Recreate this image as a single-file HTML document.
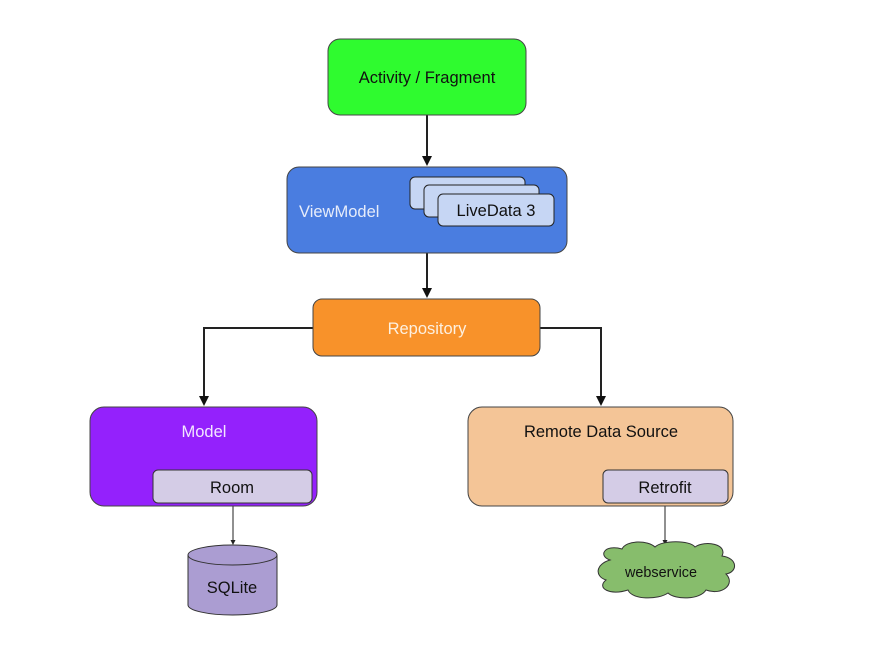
<!DOCTYPE html>
<html><head><meta charset="utf-8"><style>
html,body{margin:0;padding:0;background:#fff;}
svg{display:block;}
text{font-family:"Liberation Sans",Arial,sans-serif;}
</style></head><body>
<svg width="891" height="657" viewBox="0 0 891 657" xmlns="http://www.w3.org/2000/svg">
<rect width="891" height="657" fill="#fff"/>
<g stroke="#222" stroke-width="2" fill="none">
<line x1="427" y1="115" x2="427" y2="157"/>
<line x1="427" y1="253" x2="427" y2="289"/>
<polyline points="313,328 204,328 204,397"/>
<polyline points="540,328 601,328 601,397"/>
</g>
<g fill="#111">
<path d="M422,156 L432,156 L427,166 z"/>
<path d="M422,288 L432,288 L427,298 z"/>
<path d="M199,396 L209,396 L204,406 z"/>
<path d="M596,396 L606,396 L601,406 z"/>
</g>
<g stroke="#222" stroke-width="1" fill="none">
<line x1="233" y1="503" x2="233" y2="541"/>
<line x1="665" y1="503" x2="665" y2="541"/>
</g>
<path d="M230.5,540 L235.5,540 L233,545 z" fill="#222"/>
<path d="M662.5,540 L667.5,540 L665,545 z" fill="#222"/>

<rect x="328" y="39" width="198" height="76" rx="12" fill="#2ffb2f" stroke="#444" stroke-width="1"/>
<text x="427" y="83" font-size="16.5" text-anchor="middle" fill="#111">Activity / Fragment</text>

<rect x="287" y="167" width="280" height="86" rx="12" fill="#4a7de0" stroke="#444" stroke-width="1"/>
<text x="299" y="217" font-size="16.5" fill="#e6ecfa">ViewModel</text>
<rect x="410" y="177" width="115" height="32" rx="5" fill="#c6d6f4" stroke="#222" stroke-width="1"/>
<rect x="424" y="185" width="115" height="32" rx="5" fill="#c6d6f4" stroke="#222" stroke-width="1"/>
<rect x="438" y="194" width="116" height="32" rx="5" fill="#c6d6f4" stroke="#222" stroke-width="1"/>
<text x="496" y="216" font-size="16.5" text-anchor="middle" fill="#111">LiveData 3</text>

<rect x="313" y="299" width="227" height="57" rx="9" fill="#f8922a" stroke="#444" stroke-width="1"/>
<text x="427" y="334" font-size="16.5" text-anchor="middle" fill="#fdf0e0">Repository</text>

<rect x="90" y="407" width="227" height="99" rx="14" fill="#9421fc" stroke="#444" stroke-width="1"/>
<text x="204" y="437" font-size="16.5" text-anchor="middle" fill="#f2e6ff">Model</text>
<rect x="153" y="470" width="159" height="33" rx="5" fill="#d4cce6" stroke="#333" stroke-width="1"/>
<text x="232" y="493" font-size="16.5" text-anchor="middle" fill="#111">Room</text>

<rect x="468" y="407" width="265" height="99" rx="14" fill="#f4c597" stroke="#444" stroke-width="1"/>
<text x="601" y="437" font-size="16.5" text-anchor="middle" fill="#111">Remote Data Source</text>
<rect x="603" y="470" width="125" height="33" rx="5" fill="#d4cce6" stroke="#333" stroke-width="1"/>
<text x="665" y="493" font-size="16.5" text-anchor="middle" fill="#111">Retrofit</text>

<path d="M188,555 L188,605 A44.5,10 0 0 0 277,605 L277,555" fill="#ab9dd2" stroke="#333" stroke-width="1"/>
<ellipse cx="232.5" cy="555" rx="44.5" ry="10" fill="#ab9dd2" stroke="#333" stroke-width="1"/>
<text x="232" y="593" font-size="16.5" text-anchor="middle" fill="#111">SQLite</text>

<path d="M610,560 C598,556 604,544 622,549 C626,540 648,540 655,547 C662,540 690,540 695,547 C705,540 728,544 722,556 C738,558 738,572 726,574 C736,584 722,596 706,590 C700,600 675,600 668,593 C658,600 632,600 628,590 C610,596 596,588 606,580 C594,576 596,564 610,560 z" fill="#87bd6c" stroke="#333" stroke-width="1"/>
<text x="661" y="577" font-size="14.4" text-anchor="middle" fill="#111">webservice</text>
</svg>
</body></html>
